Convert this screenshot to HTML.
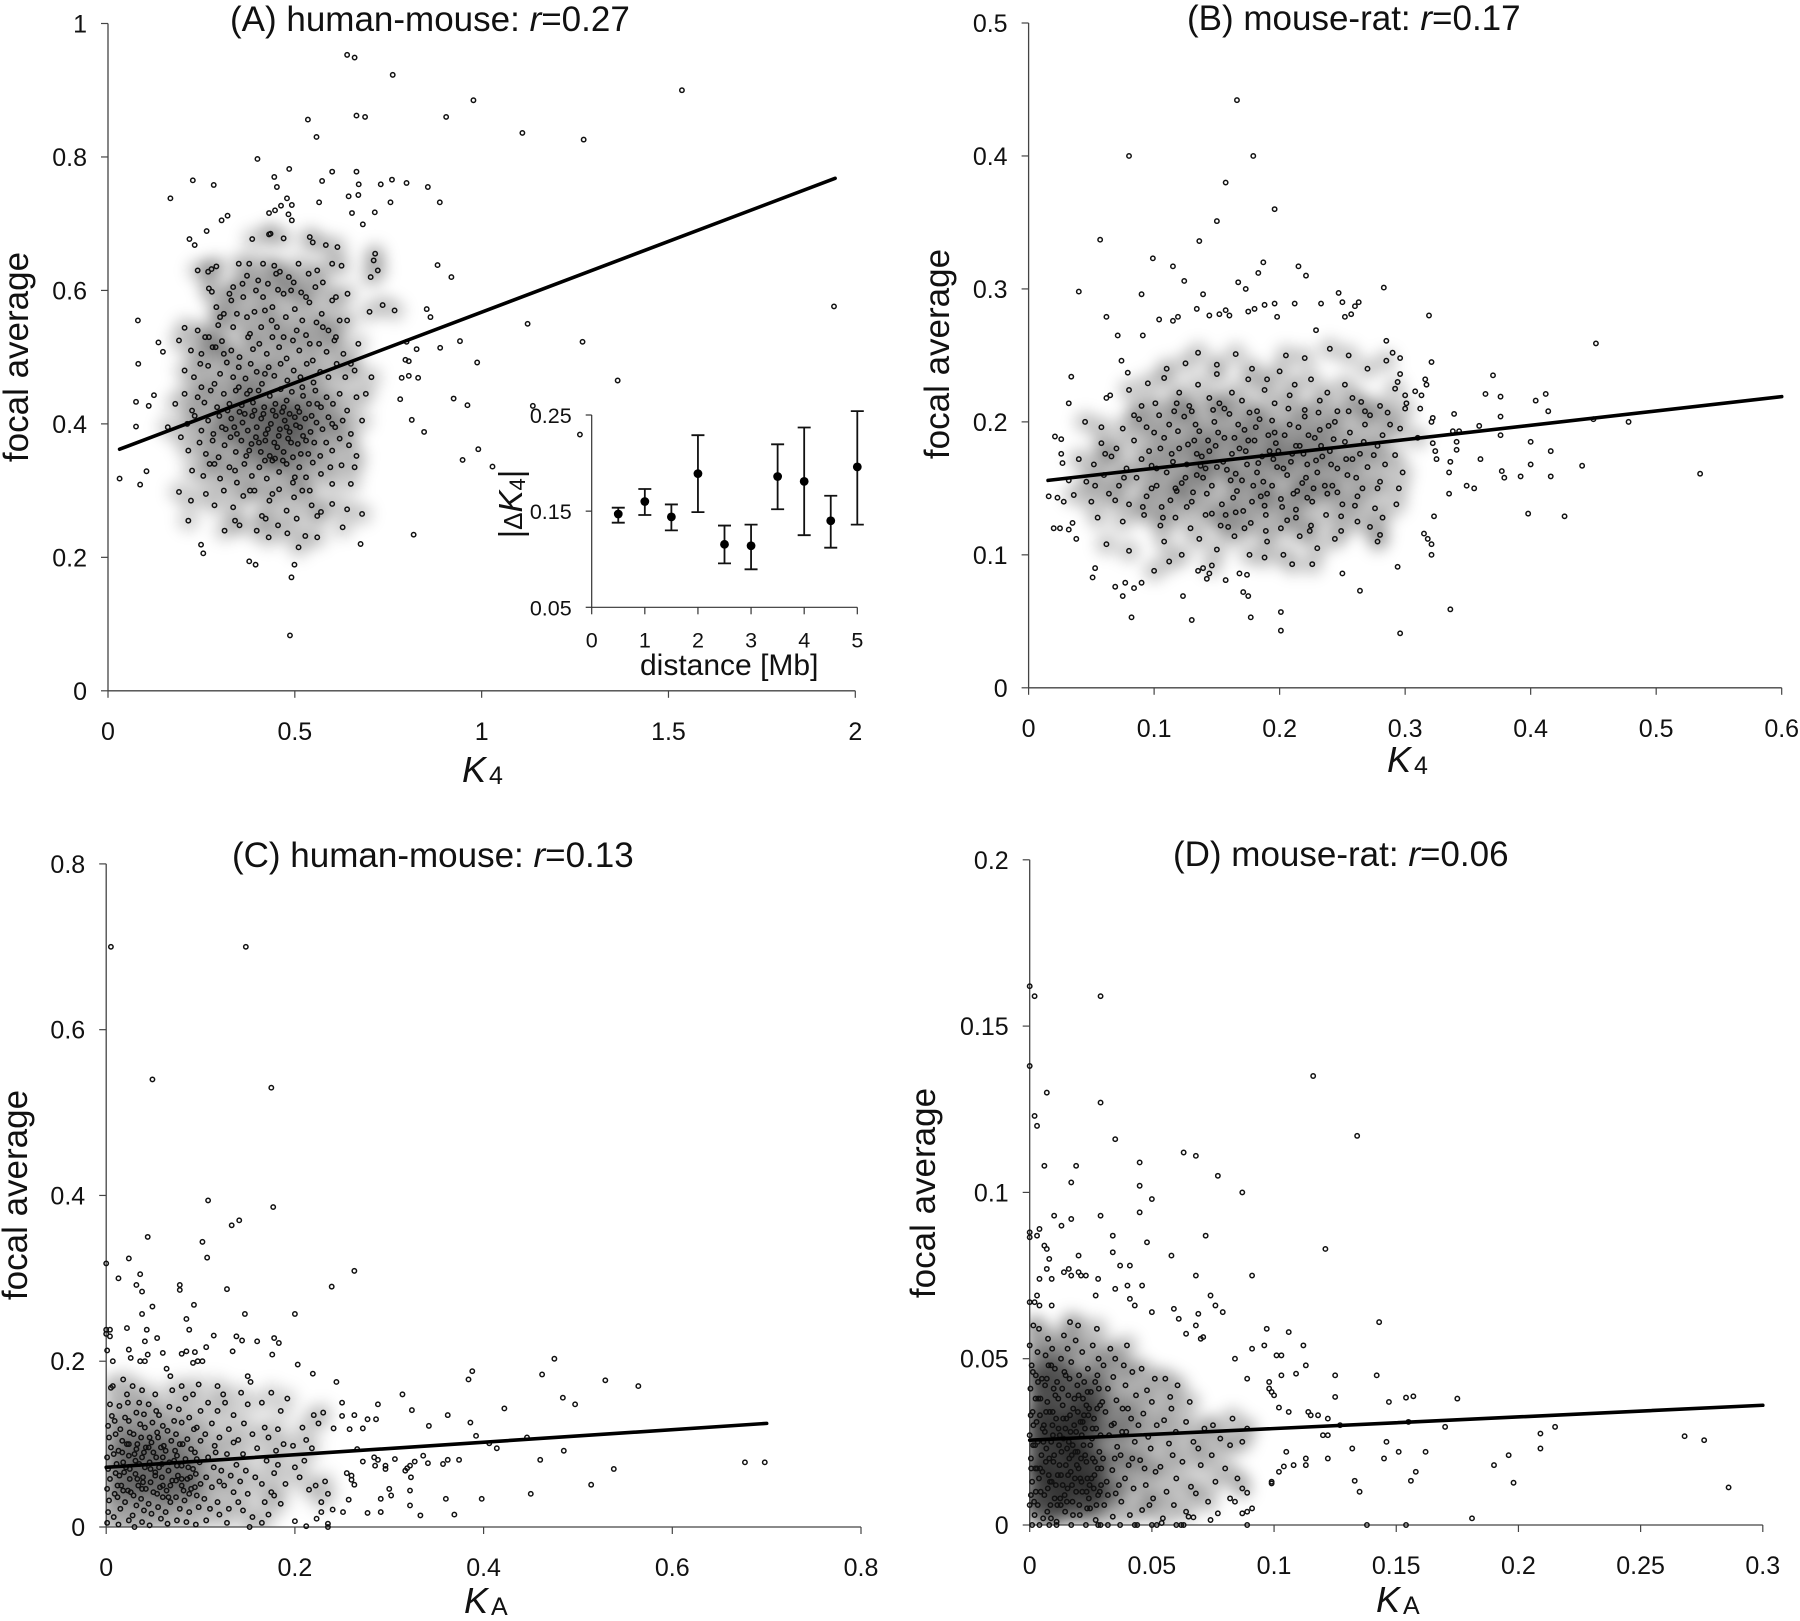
<!DOCTYPE html>
<html lang="en">
<head>
<meta charset="utf-8">
<title>Focal average scatter plots</title>
<style>
html,body{margin:0;padding:0;background:#fff}
svg{display:block}
text{font-family:"Liberation Sans",sans-serif;fill:#111}
.tick{font-size:25px}
.title{font-size:35px}
.ytitle{font-size:35px}
.xt{font-size:36px;font-style:italic}
.inset-tick{font-size:21.5px}
</style>
</head>
<body>
<svg id="chart" xmlns="http://www.w3.org/2000/svg" width="1800" height="1621" viewBox="0 0 1800 1621">
<defs>
<filter id="soft" x="-20%" y="-20%" width="140%" height="140%"><feGaussianBlur stdDeviation="7"/></filter>
<clipPath id="clip-a"><rect x="108" y="0" width="760" height="691"/></clipPath>
<clipPath id="clip-b"><rect x="1029" y="0" width="760" height="688"/></clipPath>
<clipPath id="clip-c"><rect x="106" y="840" width="760" height="687"/></clipPath>
<clipPath id="clip-d"><rect x="1030" y="840" width="760" height="685"/></clipPath>
</defs>
<rect width="1800" height="1621" fill="#fff"/>
<g id="layer"></g>
<text class="title" x="230" y="31">(A) human-mouse: <tspan font-style="italic">r</tspan>=0.27</text>
<text class="title" x="1187" y="30">(B) mouse-rat: <tspan font-style="italic">r</tspan>=0.17</text>
<text class="title" x="232" y="867">(C) human-mouse: <tspan font-style="italic">r</tspan>=0.13</text>
<text class="title" x="1173" y="866">(D) mouse-rat: <tspan font-style="italic">r</tspan>=0.06</text>
<text class="ytitle" transform="translate(28,357) rotate(-90)" text-anchor="middle">focal average</text>
<text class="ytitle" transform="translate(949,354) rotate(-90)" text-anchor="middle">focal average</text>
<text class="ytitle" transform="translate(27,1195) rotate(-90)" text-anchor="middle">focal average</text>
<text class="ytitle" transform="translate(935,1193) rotate(-90)" text-anchor="middle">focal average</text>
<text class="xt" x="462" y="782">K<tspan font-style="normal" font-size="25" dx="3" dy="2">4</tspan></text>
<text class="xt" x="1387" y="772">K<tspan font-style="normal" font-size="25" dx="3" dy="2">4</tspan></text>
<text class="xt" x="464" y="1613">K<tspan font-style="normal" font-size="25" dx="3" dy="2">A</tspan></text>
<text class="xt" x="1376" y="1612">K<tspan font-style="normal" font-size="25" dx="3" dy="2">A</tspan></text>
<text font-size="30" x="640" y="675">distance [Mb]</text>
<text font-size="33" transform="translate(522,504) rotate(-90)" text-anchor="middle">|<tspan font-size="26">Δ</tspan><tspan font-style="italic">K</tspan><tspan font-size="22" dy="3">4</tspan><tspan dy="-3">|</tspan></text>
</svg>
<script>
/* ---------- Panel A data ---------- */
const ticksAX=[0,0.5,1,1.5,2];
const ticksAY=[0,0.2,0.4,0.6,0.8,1];
const trendAX=[0.031,1.946];
const trendAY=[0.362,0.768];
const sparseA=[.64,.953,.66,.949,.762,.923,1.536,.9,.978,.885,.665,.862,.688,.86,.905,.86,1.109,.836,1.273,.826,.535,.856,.558,.83,.4,.797,.485,.782,.227,.765,.283,.758,.167,.738,.6,.778,.665,.778,.445,.77,.671,.759,.73,.759,.76,.766,.799,.761,.856,.755,.888,.732,.573,.764,.452,.755,.644,.741,.67,.743,.565,.732,.756,.732,.479,.738,.463,.727,.492,.728,.431,.716,.447,.72,.483,.714,.492,.705,.32,.712,.304,.705,.653,.716,.714,.717,.682,.699,.264,.689,.218,.677,.232,.668,1.943,.576,1.123,.55,1.27,.523,1.364,.465,.942,.524,.988,.492,.919,.62,.882,.638,.853,.572,.863,.56,.889,.514,.826,.512,.799,.523,.796,.496,.805,.494,.83,.469,.805,.472,.786,.469,.925,.438,.962,.428,1.137,.427,1.263,.384,.991,.362,.949,.346,1.029,.336,.846,.388,.813,.406,.782,.437,.818,.234,.676,.22,.487,.083,.491,.17,.499,.189,.249,.219,.255,.206,.395,.189,.378,.194,.031,.318,.086,.309,.103,.329,.075,.396,.075,.433,.08,.555,.081,.49,.109,.427,.123,.443,.135,.522,.147,.508];
const coreA=[386,677,431,684,435,685,470,678,540,680,548,672,583,668,614,665,240,630,268,628,277,632,290,636,350,640,372,622,378,640,415,640,445,637,460,628,497,612,510,640,537,625,560,630,600,640,625,637,711,645,715,655,270,603,278,598,325,595,335,605,362,590,396,600,402,615,428,610,455,601,470,595,484,620,517,597,539,582,575,612,600,585,641,595,703,620,722,630,735,578,767,570,205,544,240,540,260,530,295,548,310,565,345,565,372,560,392,568,420,570,438,555,452,545,476,560,500,572,520,555,558,552,572,565,590,540,620,555,700,568,190,525,222,510,250,505,270,530,288,515,305,524,330,510,352,500,375,530,388,512,405,520,425,505,440,530,458,515,478,498,495,525,512,510,530,533,548,495,565,520,585,508,606,525,630,505,650,490,205,480,230,470,247,490,268,487,285,460,300,475,318,492,335,470,350,485,368,468,382,490,398,478,412,460,430,485,445,472,462,490,480,465,497,480,515,470,532,490,550,462,568,478,590,470,612,490,635,470,660,480,705,470,180,430,205,445,225,420,240,440,258,432,275,450,292,425,310,445,325,430,342,450,358,428,372,445,388,432,403,450,418,425,433,442,448,430,462,452,478,435,492,448,507,425,522,442,538,430,555,450,570,425,585,440,602,430,620,445,640,420,665,440,690,445,160,395,195,380,212,400,232,412,250,390,268,405,282,385,298,412,315,392,330,408,345,385,360,402,374,390,386,412,398,395,410,408,422,385,436,400,449,412,460,392,473,405,486,388,500,410,514,395,528,408,542,388,558,402,574,392,590,410,608,395,628,405,650,385,680,405,215,360,245,372,262,355,280,375,296,350,312,368,328,380,342,358,357,375,370,352,384,370,396,380,409,358,421,375,433,352,445,372,457,382,470,358,482,378,495,350,508,370,522,382,536,355,552,372,568,352,584,372,600,360,620,378,645,368,665,352,225,330,255,322,272,340,300,318,325,335,345,312,365,340,385,322,405,335,425,318,440,345,458,328,478,340,495,312,512,335,530,320,548,342,570,325,595,335,625,338,660,335,190,298,222,285,262,295,285,278,310,300,335,275,362,292,392,300,412,262,432,285,458,302,478,270,498,290,520,300,545,278,570,268,600,280,640,272,680,265,215,255,312,240,352,248,398,240,422,258,455,248,480,236,505,258,528,232,560,262,628,245,392,420,404,372,416,415,428,392,441,420,453,365,466,418,478,395,490,372,503,398,516,355,352,418,338,395,366,415,378,360,420,345,447,348,468,345,486,415,512,418,530,375,545,412,320,420,305,395,300,560,330,585,360,610,415,590,450,625,490,600,530,590,555,605,610,590,640,555,670,520,335,545,290,575,380,535,410,545,440,575,470,530,505,540,540,520,575,545,610,530,250,455,280,515,310,505,350,455,380,450,420,475,470,425,520,455,560,430,600,400,285,340,340,330,380,300,440,295,500,320,540,300,600,310,650,310,340,255,430,230,510,215,560,230];

/* ---------- Inset data ---------- */
const insetDistance=[0.5,1,1.5,2,2.5,3,3.5,4,4.5,5];
const insetMean=[.147,.160,.144,.189,.1155,.114,.186,.181,.140,.196];
const insetUpper=[.1536,.173,.157,.229,.135,.136,.2195,.237,.166,.254];
const insetLower=[.138,.146,.130,.149,.0957,.0895,.152,.125,.112,.136];
const insetTicksX=[0,1,2,3,4,5];
const insetTicksY=[0.05,0.15,0.25];

/* ---------- Panel B data ---------- */
const ticksBX=[0,0.1,0.2,0.3,0.4,0.5,0.6];
const ticksBY=[0,0.1,0.2,0.3,0.4,0.5];
const trendBX=[0.0155,0.6];
const trendBY=[0.156,0.219];
const sparseB=[.166,.442,.08,.4,.179,.4,.157,.38,.15,.351,.196,.36,.057,.337,.136,.336,.099,.323,.115,.317,.187,.32,.183,.312,.215,.317,.221,.31,.124,.306,.04,.298,.167,.305,.173,.3,.139,.296,.09,.296,.283,.301,.247,.297,.25,.29,.263,.29,.26,.287,.212,.289,.233,.289,.196,.289,.188,.288,.134,.285,.18,.285,.175,.283,.062,.279,.319,.28,.157,.284,.16,.28,.144,.28,.152,.281,.198,.279,.252,.279,.257,.281,.104,.277,.119,.279,.115,.276,.229,.269,.071,.265,.091,.265,.452,.259,.535,.161,.478,.2,.45,.202,.427,.129,.441,.167,.398,.131,.416,.159,.416,.178,.4,.185,.4,.168,.392,.159,.379,.158,.377,.163,.36,.172,.376,.19,.376,.204,.359,.197,.414,.208,.412,.221,.404,.216,.376,.219,.364,.221,.37,.235,.339,.206,.343,.193,.338,.193,.341,.185,.341,.179,.349,.152,.355,.15,.336,.17,.335,.162,.335,.146,.323,.129,.315,.116,.318,.112,.321,.108,.321,.1,.336,.059,.296,.041,.294,.091,.264,.073,.25,.086,.201,.057,.201,.043,.177,.053,.13,.051,.082,.053,.123,.069,.075,.069,.069,.076,.084,.075,.077,.079,.09,.079,.053,.09,.051,.083,.171,.072,.175,.069,.168,.086,.174,.085,.157,.081,.142,.082,.144,.086,.135,.088,.139,.09,.016,.144,.02,.12,.025,.12,.023,.143,.028,.14,.032,.119,.035,.124,.038,.112,.021,.189,.026,.187,.026,.176,.027,.169,.032,.214,.034,.234,.032,.156,.074,.246,.079,.237,.062,.218,.065,.22,.285,.261,.29,.252,.296,.248,.296,.236,.294,.23,.3,.22,.301,.214,.308,.223,.313,.22,.321,.245,.316,.232,.317,.228,.312,.21,.321,.2,.322,.203,.322,.184,.324,.178,.325,.172];
const coreB=[110,240,125,244,135,252,150,243,165,251,178,240,190,232,205,250,220,248,240,255,255,250,270,240,285,246,80,224,95,229,108,233,120,222,135,228,150,236,162,222,175,232,188,224,200,238,212,228,225,232,238,222,252,228,265,215,280,212,292,225,90,212,104,205,118,214,130,208,144,218,156,210,170,216,182,208,196,214,208,220,220,209,232,216,246,208,258,218,272,205,288,198,300,210,45,200,58,196,75,195,88,202,100,192,112,198,124,204,136,193,148,200,160,206,172,194,184,202,196,192,208,198,220,204,232,194,244,200,256,192,268,198,282,190,296,195,310,188,58,184,70,180,84,186,96,178,108,188,120,180,132,186,144,178,156,188,168,180,180,186,192,178,204,190,216,182,228,188,240,178,252,185,264,176,278,182,292,175,40,172,52,168,66,174,78,165,90,172,102,165,114,176,126,168,138,174,150,166,162,176,174,168,186,174,198,166,210,176,222,168,234,174,246,165,258,172,270,166,284,168,298,162,46,155,60,160,72,152,86,158,98,150,110,162,122,154,134,160,146,152,158,164,170,156,182,162,194,152,206,160,218,154,230,162,242,152,254,160,266,150,280,155,295,150,36,145,50,140,64,146,80,138,94,144,106,136,118,148,130,140,142,146,154,138,166,148,178,140,190,146,202,136,214,148,226,140,238,146,250,138,262,144,276,135,55,128,75,125,92,130,105,122,117,128,129,120,141,130,153,122,165,132,177,124,189,130,201,120,213,128,225,122,237,130,249,118,262,125,280,115,62,108,80,103,108,110,122,100,136,112,150,104,164,114,176,100,190,110,203,100,216,114,230,105,244,112,278,110,100,88,112,95,146,92,188,98,210,93,226,93,115,170,127,183,139,158,151,192,163,143,175,186,187,155,199,178,211,146,223,190,131,147,143,186,155,170,167,198,179,152,191,190,203,165,215,196,227,150,119,193,125,158,137,167,149,182,161,156,173,178,185,144,197,184,209,170,221,158,233,182,105,180,117,150,241,168,102,152,94,196,101,214,113,141,128,212,134,176,146,131,152,214,159,121,164,188,171,133,176,207,183,169,189,118,194,201,201,142,207,210,213,134,219,176,224,118,231,207,236,152,243,187,249,129,255,208,261,158,267,185,272,121,278,150,286,207,293,138,98,167,91,136,84,205,76,158,69,141,61,176,53,152,107,128,116,208,126,136,133,198,141,165,147,209,157,130,165,161,172,120,181,196,188,137,195,172,206,126,213,182,222,143,229,171,239,197,246,147,253,172,260,137,268,208,275,175,282,128];

/* ---------- Panel C data ---------- */
const ticksCX=[0,0.2,0.4,0.6,0.8];
const ticksCY=[0,0.2,0.4,0.6,0.8];
const trendCX=[0,0.7];
const trendCY=[0.072,0.125];
const sparseC=[.005,.7,.148,.7,.049,.54,.175,.53,.177,.386,.108,.394,.141,.37,.133,.364,.102,.344,.044,.35,.107,.325,.024,.324,0,.318,.036,.305,.013,.3,.032,.292,.038,.284,.078,.292,.078,.286,.128,.287,.263,.309,.239,.29,.049,.266,.093,.268,.147,.257,.2,.257,.038,.257,.085,.251,.088,.238,.022,.24,0,.238,.004,.238,0,.233,.004,.23,.043,.238,.114,.231,.054,.228,.041,.224,.138,.23,.144,.225,.16,.224,.178,.228,.183,.222,.134,.212,.176,.208,.024,.214,.001,.213,.06,.21,.044,.208,.08,.209,.085,.212,.094,.211,.106,.217,.026,.204,.036,.2,.041,.2,.007,.2,.092,.198,.102,.2,.097,.2,.203,.196,.064,.191,.068,.182,.219,.185,.15,.182,.153,.175,.244,.175,.475,.203,.388,.188,.384,.178,.462,.184,.529,.177,.564,.17,.484,.156,.497,.148,.422,.143,.314,.16,.324,.141,.288,.148,.25,.15,.362,.135,.342,.122,.386,.126,.392,.11,.446,.108,.406,.101,.414,.095,.485,.092,.46,.081,.677,.078,.698,.078,.538,.07,.514,.051,.45,.04,.398,.034,.369,.015,.333,.014,.36,.034,.322,.044,.322,.026,.302,.038,.3,.046,.291,.034,.291,.018,.277,.017,.257,.033,.251,.018,.357,.076,.362,.081,.374,.081,.336,.086,.341,.077,.327,.079,.319,.071,.317,.068,.322,.074,.323,.06,.306,.082,.296,.074,.296,.07,.284,.084,.288,.081,.285,.074,.272,.079,.266,.094,.255,.065,.26,.062,.26,.057,.263,.051,.272,.119,.277,.13,.286,.13,.258,.118,.263,.135,.25,.134,.241,.119,.235,.004,.235,0,.212,.001,.2,.007,.223,.01,.228,.018,.24,.021];
const coreC=[1,5,2,18,3,32,1,46,4,58,2,70,1,84,5,96,3,108,2,122,6,134,4,148,7,170,8,12,9,40,10,65,8,88,10,112,9,128,5,168,13,3,15,22,12,36,16,50,14,62,18,78,13,92,17,104,15,118,20,132,14,146,22,160,24,8,20,30,23,44,25,58,21,72,24,86,22,100,25,114,24,128,23,150,18,178,30,0,28,14,32,26,29,38,34,50,31,64,35,76,30,88,33,100,29,112,36,124,32,138,35,150,28,170,38,6,40,20,37,34,42,46,39,60,41,72,38,84,42,96,37,108,41,120,40,136,38,165,46,2,48,16,45,28,50,42,47,54,52,66,46,78,50,90,48,102,54,114,49,126,53,140,45,148,56,135,58,10,55,24,60,36,57,48,59,60,56,72,60,84,58,96,55,108,60,122,52,160,65,4,63,18,68,30,64,44,70,56,66,68,72,80,63,92,69,104,65,116,72,128,67,145,75,8,78,22,74,36,80,50,76,62,80,74,75,86,78,100,74,112,80,126,77,142,70,165,80,170,85,6,88,18,83,32,90,46,86,58,92,70,84,82,90,94,86,106,93,118,88,132,84,155,95,3,98,24,96,38,100,52,95,64,99,78,94,90,100,104,96,120,100,140,92,160,98,172,106,8,110,22,104,34,112,48,106,60,114,72,108,84,115,98,105,112,112,125,108,150,118,170,118,30,120,55,122,68,116,90,120,108,118,140,124,160,120,15,128,5,130,22,135,42,125,50,132,62,138,75,128,88,135,102,130,118,126,150,140,30,145,20,142,55,148,68,145,88,140,105,146,125,135,135,150,148,143,162,152,0,155,12,150,40,158,60,160,95,155,112,165,5,172,15,168,30,175,42,165,52,178,65,170,80,180,92,172,108,168,120,182,118,178,38,185,28,190,52,182,75,188,100,165,150,175,162,185,140,192,155,200,72,205,60,198,98,210,80,215,45,222,50,212,105,220,135,225,125,228,30,232,55,235,40,208,120,218,95,230,138,12,50,19,66,26,42,33,58,40,90,47,70,54,40,61,98,68,50,75,74,82,44,89,60,96,82,17,90,24,100,31,80,38,46,45,96,52,62,59,76,66,36,73,92,80,58,87,72,94,48,11,76,18,44,25,70,32,94,39,54,46,108,53,84,60,50,67,78,74,56,81,100,88,40];

/* ---------- Panel D data ---------- */
const ticksDX=[0,0.05,0.1,0.15,0.2,0.25,0.3];
const ticksDY=[0,0.05,0.1,0.15,0.2];
const trendDX=[0,0.3];
const trendDY=[0.0255,0.036];
const sparseD=[0,.162,.002,.159,.029,.159,0,.138,.007,.13,.029,.127,.116,.135,.134,.117,.002,.123,.003,.12,.035,.116,.006,.108,.019,.108,.017,.103,.045,.109,.045,.102,.063,.112,.068,.111,.077,.105,.087,.1,.05,.098,.01,.093,.017,.092,.013,.09,.029,.093,.045,.094,0,.088,0,.0865,.003,.087,.004,.089,.034,.087,.072,.087,.048,.085,.006,.084,.007,.083,.121,.083,.034,.082,.02,.081,.058,.081,.008,.08,.037,.078,.041,.078,.007,.077,.014,.076,.016,.077,.017,.075,.02,.076,.021,.075,.023,.075,.004,.074,.009,.074,.028,.074,.068,.075,.091,.075,.035,.071,.04,.072,.046,.072,.027,.069,.041,.068,.074,.069,.076,.066,0,.067,.002,.067,.004,.066,.003,.069,.009,.066,.043,.066,.059,.065,.05,.064,.079,.064,.069,.0635,.143,.061,.097,.059,.106,.058,.061,.062,.068,.06,.064,.0575,.07,.056,.071,.0565,.112,.054,.101,.051,.103,.051,.096,.054,.091,.053,.084,.05,.113,.048,.125,.045,.142,.045,.109,.0455,.103,.045,.089,.044,.098,.043,.098,.041,.099,.04,.1,.039,.125,.0385,.154,.0383,.157,.0387,.147,.037,.175,.038,.102,.0353,.106,.034,.114,.034,.115,.033,.118,.033,.122,.032,.127,.03,.155,.031,.17,.0295,.209,.0275,.215,.0295,.268,.0267,.276,.0255,.286,.0113,.209,.023,.196,.021,.19,.018,.198,.0127,.162,.022,.151,.022,.146,.025,.145,.02,.132,.023,.133,.0133,.135,.01,.158,.016,.156,.0133,.181,.002,.138,0,.154,0,.122,.027,.12,.027,.122,.02,.113,.018,.113,.02,.108,.018,.105,.022,.102,.016,.104,.0176,.099,.0125,.099,.013,.091,.005,.089,.004,.087,.0035,.089,0,.077,.0035,.074,.0015,.065,.0025,.067,.0023,.062,0,.06,0,.063,0,.082,.008,.084,.007,.089,.0097,.052,0,.054,.0006,.05,0,.043,0,.044,0,.037,0,.032,0,.029,0,.028,0,.023,0,.017,0,.011,0,.008,0,.004,0,.001,0];
const coreD=[0,60,10,130,5,200,0,270,12,340,3,410,8,480,0,540,15,600,20,30,25,100,30,170,22,240,28,310,35,380,25,450,32,520,38,590,55,20,60,90,52,160,68,230,58,300,72,370,50,440,65,510,75,560,85,60,90,130,80,200,95,270,82,340,98,410,88,480,92,530,110,10,125,80,115,150,130,220,118,290,135,360,112,430,128,500,140,570,145,40,155,110,148,180,160,250,150,320,158,390,142,460,155,530,165,610,175,70,185,140,172,210,190,280,178,350,195,420,170,490,188,555,205,30,215,100,200,170,220,240,208,310,218,380,202,450,215,520,198,600,235,50,245,120,232,190,255,260,240,330,250,400,238,470,258,540,270,15,280,90,265,150,285,220,272,290,288,360,268,430,282,500,275,590,305,60,315,130,300,200,325,270,310,340,320,410,302,480,330,530,340,25,352,95,338,165,358,235,345,305,355,375,342,445,350,500,375,70,390,140,372,210,395,280,380,350,392,420,385,480,410,30,425,110,405,180,430,250,415,320,435,390,420,460,398,540,460,45,475,120,452,195,485,265,465,335,480,405,458,470,505,80,515,160,495,230,520,300,500,370,512,440,545,20,560,100,535,175,570,245,550,315,575,385,555,440,590,60,600,140,585,210,598,280,580,350,605,420,640,40,660,115,625,190,670,250,640,310,655,370,680,95,700,180,690,230,715,290,730,70,760,130,745,210,780,260,750,300,800,170,820,240,850,140,870,250,830,320,890,290,870,110,18,70,38,140,48,210,62,280,78,150,88,250,102,80,108,320,122,180,138,260,152,70,168,160,182,300,196,220,212,130,226,290,242,80,258,200,276,350,292,120,44,380,70,440,100,210,135,120,165,330,200,390,232,360,262,110,290,270,15,300,42,330,74,110,105,390,128,150,162,200,190,100,222,330,248,240,278,170,6,170,33,250,66,190,94,340,120,240,146,290,176,240,210,200,236,140,5,90,14,240,24,380,33,60,43,170,53,290,63,420,72,40,83,130,93,300,103,470,113,60,123,270,133,410,143,90,153,230,163,440,173,120,183,380,193,180,203,60,213,270,223,430,233,100,243,350,253,140,263,320,273,60,283,410,293,170,4,330,13,460,23,170,34,430,45,100,56,250,67,340,77,480,87,20,97,190,107,120,117,380,127,60,137,320,147,450,157,150,167,280,177,30,187,220,197,340,207,140,217,310,227,210,237,400,247,50,257,290,267,190,277,450,287,100,297,370,320,90,335,300,348,200,365,120,378,280,402,350,420,200,445,300,470,170,490,60];

/* ---------- Layout (pixels, no data) ---------- */
const layoutA={id:'a',x0:108,x1:855.3,y0:690.8,y1:23.5,xMax:2,yMax:1,coreUnit:1000,shade:0.17};
const layoutB={id:'b',x0:1028.6,x1:1781.7,y0:687.8,y1:23,xMax:0.6,yMax:0.5,coreUnit:1000,shade:0.2};
const layoutC={id:'c',x0:106.2,x1:861,y0:1527,y1:863.9,xMax:0.8,yMax:0.8,coreUnit:1000,shade:0.12};
const layoutD={id:'d',x0:1029.7,x1:1762.8,y0:1525,y1:859.8,xMax:0.3,yMax:0.2,coreUnit:10000,shade:0.22};
const layoutInset={x0:591.7,x1:857.3,y0:607.3,y1:415,xMin:0,xMax:5,yMin:0.05,yMax:0.25};

const NS='http://www.w3.org/2000/svg';
const layer=document.getElementById('layer');
function make(tag,attrs,parent){
  const el=document.createElementNS(NS,tag);
  for(const k in attrs){el.setAttribute(k,attrs[k]);}
  parent.appendChild(el);
  return el;
}
function drawPanel(L,ticksX,ticksY,sparse,core,trendX,trendY){
  const sx=v=>L.x0+(v/L.xMax)*(L.x1-L.x0);
  const sy=v=>L.y0-(v/L.yMax)*(L.y0-L.y1);
  const g=make('g',{},layer);
  
  

  const clip=make('g',{'clip-path':'url(#clip-'+L.id+')'},g);
  
  
  const halo=make('g',{filter:'url(#soft)'},clip);
  for(let i=0;i<core.length;i+=2){
    make('circle',{cx:sx(core[i]/L.coreUnit),cy:sy(core[i+1]/L.coreUnit),r:11,fill:'#000','fill-opacity':L.shade},halo);
  }

  const xAxis=make('line',{x1:L.x0,x2:L.x1,y1:L.y0,y2:L.y0,stroke:'#444','stroke-width':1.3},g);
  
  
  const yAxis=make('line',{x1:L.x0,x2:L.x0,y1:L.y0,y2:L.y1,stroke:'#444','stroke-width':1.3},g);
  
  

  ticksX.forEach(v=>{
    const t=make('line',{x1:sx(v),x2:sx(v),y1:L.y0,y2:L.y0+7,stroke:'#444','stroke-width':1.2},g);
    
    
    const lab=make('text',{x:sx(v),y:L.y0+49,'text-anchor':'middle',class:'tick'},g);
    lab.textContent=String(v);
    
    
  });
  ticksY.forEach(v=>{
    const t=make('line',{x1:L.x0-7,x2:L.x0,y1:sy(v),y2:sy(v),stroke:'#444','stroke-width':1.2},g);
    
    
    const lab=make('text',{x:L.x0-21,y:sy(v)+9,'text-anchor':'end',class:'tick'},g);
    lab.textContent=String(v);
    
    
  });

  const pts=make('g',{fill:'none',stroke:'#111','stroke-width':1.5},g);
  
  
  for(let i=0;i<core.length;i+=2){
    const c=make('circle',{cx:sx(core[i]/L.coreUnit),cy:sy(core[i+1]/L.coreUnit),r:2.2},pts);
    
    
  }
  for(let i=0;i<sparse.length;i+=2){
    const c=make('circle',{cx:sx(sparse[i]),cy:sy(sparse[i+1]),r:2.2},pts);
    
    
  }

  const trend=make('line',{x1:sx(trendX[0]),y1:sy(trendY[0]),x2:sx(trendX[1]),y2:sy(trendY[1]),stroke:'#000','stroke-width':3.6,'stroke-linecap':'round'},g);
  
  
}
function drawInset(L){
  const sx=v=>L.x0+((v-L.xMin)/(L.xMax-L.xMin))*(L.x1-L.x0);
  const sy=v=>L.y0-((v-L.yMin)/(L.yMax-L.yMin))*(L.y0-L.y1);
  const g=make('g',{},layer);
  
  
  const xAxis=make('line',{x1:L.x0,x2:L.x1,y1:L.y0,y2:L.y0,stroke:'#333','stroke-width':1.2},g);
  
  
  const yAxis=make('line',{x1:L.x0,x2:L.x0,y1:L.y0,y2:L.y1,stroke:'#333','stroke-width':1.2},g);
  
  
  insetTicksX.forEach(v=>{
    const t=make('line',{x1:sx(v),x2:sx(v),y1:L.y0,y2:L.y0+7,stroke:'#333','stroke-width':1.2},g);
    
    
    const lab=make('text',{x:sx(v),y:L.y0+40,'text-anchor':'middle',class:'inset-tick'},g);
    lab.textContent=String(v);
    
    
  });
  insetTicksY.forEach(v=>{
    const t=make('line',{x1:L.x0-6,x2:L.x0,y1:sy(v),y2:sy(v),stroke:'#333','stroke-width':1.2},g);
    
    
    const lab=make('text',{x:L.x0-20,y:sy(v)+8,'text-anchor':'end',class:'inset-tick'},g);
    lab.textContent=v.toFixed(2);
    
    
  });
  insetDistance.forEach((d,i)=>{
    const x=sx(d);
    const bar=make('path',{d:'M'+(x-6.5)+' '+sy(insetUpper[i])+'H'+(x+6.5)+'M'+x+' '+sy(insetUpper[i])+'V'+sy(insetLower[i])+'M'+(x-6.5)+' '+sy(insetLower[i])+'H'+(x+6.5),fill:'none',stroke:'#111','stroke-width':1.8},g);
    
    
    const dot=make('circle',{cx:x,cy:sy(insetMean[i]),r:4.4,fill:'#000'},g);
    
    
  });
}
drawPanel(layoutA,ticksAX,ticksAY,sparseA,coreA,trendAX,trendAY);
drawPanel(layoutB,ticksBX,ticksBY,sparseB,coreB,trendBX,trendBY);
drawPanel(layoutC,ticksCX,ticksCY,sparseC,coreC,trendCX,trendCY);
drawPanel(layoutD,ticksDX,ticksDY,sparseD,coreD,trendDX,trendDY);
drawInset(layoutInset);
</script>
</body>
</html>
